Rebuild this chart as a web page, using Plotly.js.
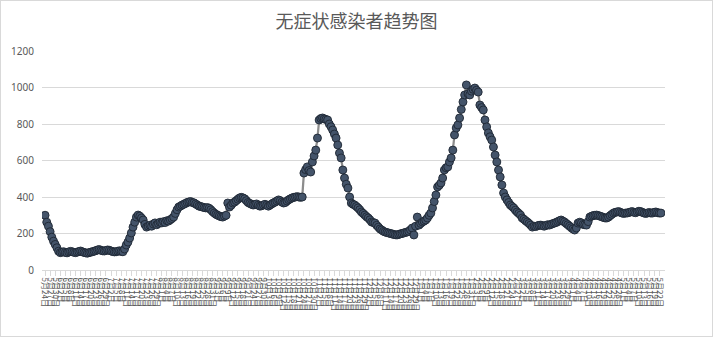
<!DOCTYPE html>
<html>
<head>
<meta charset="utf-8">
<script src="https://cdn.plot.ly/plotly-3.0.1.min.js"></script>
<style>
  html, body { margin: 0; padding: 0; background: #fff; }
  #wrap { position: relative; width: 713px; height: 337px; }
  #chart { width: 713px; height: 337px; }
  #frame { position: absolute; left: 0; top: 0; width: 713px; height: 337px; box-sizing: border-box; border: 1px solid #d9d9d9; pointer-events: none; }
</style>
</head>
<body>
<div id="wrap"><div id="chart"></div><div id="frame"></div></div>
<script>
// Chart title
const chartTitle = '无症状感染者趋势图';

// First date of the daily series (one category per day)
const startYear = 2020, startMonth = 5, startDay = 24;

// Daily values (segment by segment)
const seg1 = [300,262,240,210,180,158,140,122,103,95];
const seg2 = [98,100,96,94,99,102,100,97,95,98,101,104,100,96,94,92,95,98,100,103,106,110,112,108,105,104,107,110,108,104,101,99,100,103,105,102,100];
const seg3 = [115,137,153,175,203,235,262,290,301,295];
const seg4 = [285,274,250,235,240];
const seg5 = [245,240,252,258,248,255,262,258,265,260,270,268,275,282];
const seg6 = [290,310,330,345,350,356,360,365,370,373,375,370,368,362,356,350,348,345,342,340,342,338];
const seg7 = [330,320,312,305,300,296,292,290,295,300];
const seg8 = [367,345,355,367,372,380,388,395,398,395,390,380,370,365,360,356,358,362,355,350,352,356,360,355,350,356,362,368,372,378,384,380,372,367,370,378,385,390,395,398,400,402,400,398,400];
const seg9 = [531,550,565,545,537,592,625,657,723];
const seg10 = [822,830,833,828,825,822,800,785,767,745,723,685,641,614,548,504,470,449,400,367,360,356,348,340,330,318,310,301,292,285,275,263,260,257,245,235,225,219];
const seg11 = [212,208,205,203,200,198,195,193,192,195,198,200,203,206,208,212,220];
const seg12 = [230,192,240,290,246,255,263,268,274,285,300,312];
const seg13 = [340,375,411,455,465,477,504,548,560,565,592,614,657,740,778,795,833,880,921,959,1014];
const seg14 = [965,959,980,990,997,985,975,904];
const seg15 = [890,877,822,784,751,730,712,674,630,592,548,510,466,422,400,384,370,356,348,340,328,318,310,301,285,278,270,263,255,246,235];
const seg16 = [240,238,242,245,246,243,240,244,248,246,250,254,257,260,265,270,274,268,263,255,248,240,232,225,219];
const seg17 = [230,257,262,258,250,248,246,265,290,295,298,300,301,298,295,292,288,285,285,290,298,305,312,316,318,320,316,312,310,312,312,315,318,320,316,314,318,322,320,316,312,310,312,315,312,312,316,318,314,312,312];

const values = [].concat(seg1,seg2,seg3,seg4,seg5,seg6,seg7,seg8,seg9,seg10,seg11,seg12,seg13,seg14,seg15,seg16,seg17);

// Category labels (M月D日), one per value
const categories = [];
for (let i = 0; i < values.length; i++) {
  const d = new Date(startYear, startMonth - 1, startDay + i);
  categories.push((d.getMonth() + 1) + '月' + d.getDate() + '日');
}
// Every third date carries a tick label
const tickLabels = categories.filter((c, i) => i % 3 === 0);

// Y axis ticks
const yTicks = [0, 200, 400, 600, 800, 1000, 1200];

const trace = {
  type: 'scatter',
  mode: 'lines+markers',
  x: categories,
  y: values,
  line: { color: '#8c8c8c', width: 2.25 },
  marker: { size: 8, color: '#44546a', line: { color: '#1e2733', width: 0.9 } },
  hoverinfo: 'x+y'
};

const layout = {
  width: 713,
  height: 337,
  margin: { l: 42, r: 48, t: 51, b: 67 },
  paper_bgcolor: '#ffffff',
  plot_bgcolor: '#ffffff',
  showlegend: false,
  font: { family: '"Noto Sans CJK SC", "Noto Sans", sans-serif', color: '#595959' },
  title: {
    text: chartTitle,
    x: 0.5, xanchor: 'center',
    y: 1 - 22 / 337, yanchor: 'middle',
    yref: 'container',
    font: { family: '"Noto Sans CJK SC", sans-serif', size: 18, color: '#595959' }
  },
  xaxis: {
    type: 'category',
    range: [-1.8, values.length + 1.4],
    tickmode: 'array',
    tickvals: tickLabels,
    ticktext: tickLabels,
    tickangle: 90,
    tickfont: { size: 8, color: '#595959', family: '"Noto Sans CJK SC", sans-serif' },
    showgrid: false,
    showline: true,
    linecolor: '#d9d9d9',
    linewidth: 1,
    ticks: 'outside',
    ticklen: 5,
    tickcolor: '#d9d9d9',
    zeroline: false,
    fixedrange: true
  },
  yaxis: {
    range: [0, 1200],
    tickmode: 'array',
    tickvals: yTicks,
    ticktext: yTicks.map(String),
    tickfont: { size: 10, color: '#595959', family: '"Noto Sans", "DejaVu Sans", sans-serif' },
    showgrid: true,
    gridcolor: '#d9d9d9',
    gridwidth: 1,
    zeroline: false,
    showline: false,
    ticks: '',
    ticklabelstandoff: 7,
    fixedrange: true
  }
};

Plotly.newPlot('chart', [trace], layout, { displayModeBar: false, staticPlot: true });
</script>
</body>
</html>
